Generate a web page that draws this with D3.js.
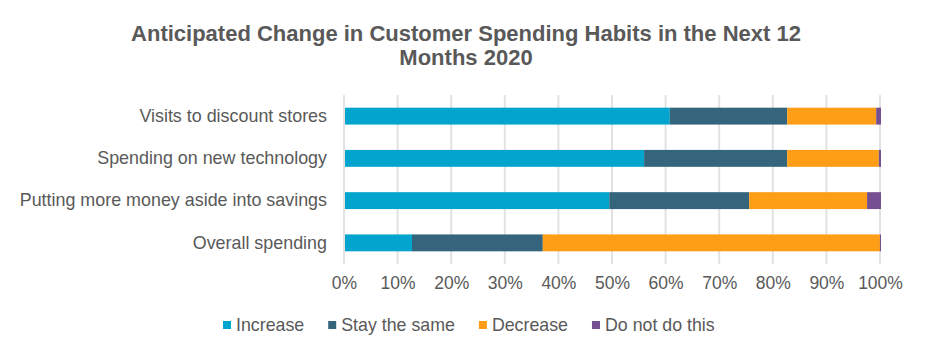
<!DOCTYPE html>
<html>
<head>
<meta charset="utf-8">
<script src="https://cdn.jsdelivr.net/npm/d3@7"></script>
<style>
  html, body { margin: 0; padding: 0; background: #fff; }
  svg { display: block; font-family: "Liberation Sans", Arial, sans-serif; }
</style>
</head>
<body>
<svg id="chart" width="925" height="356"></svg>
<script>
const categories = ["Visits to discount stores", "Spending on new technology", "Putting more money aside into savings", "Overall spending"];
const seriesNames = ["Increase", "Stay the same", "Decrease", "Do not do this"];
const increase = [60.6, 55.8, 49.3, 12.5];
const stayTheSame = [21.9, 26.7, 26.1, 24.4];
const decrease = [16.6, 17.1, 22.0, 62.9];
const doNotDoThis = [0.9, 0.4, 2.6, 0.2];
const xTicks = [0, 10, 20, 30, 40, 50, 60, 70, 80, 90, 100];
const titleLines = ["Anticipated Change in Customer Spending Habits in the Next 12", "Months 2020"];

const colors = ["#03A5CE", "#35657C", "#FE9E16", "#744F91"];
const textColor = "#595959";

const svg = d3.select("#chart");
const margin = { left: 344, right: 45, top: 95, bottom: 92 };
const W = 925, H = 356;

const rows = categories.map((c, i) => ({
  cat: c, "Increase": increase[i], "Stay the same": stayTheSame[i], "Decrease": decrease[i], "Do not do this": doNotDoThis[i]
}));
const stacked = d3.stack().keys(seriesNames)(rows);

const x = d3.scaleLinear().domain([0, 100]).range([margin.left, W - margin.right]);
const y = d3.scaleBand().domain(categories).range([margin.top, H - margin.bottom]).paddingInner(0.6).paddingOuter(0.3);

// title
svg.append("g").selectAll("text").data(titleLines).join("text")
  .attr("x", 466).attr("y", (d, i) => 41 + i * 24)
  .attr("text-anchor", "middle")
  .attr("font-size", "22px").attr("font-weight", "bold")
  .attr("fill", textColor).text(d => d);

// gridlines
svg.append("g").selectAll("line").data(xTicks).join("line")
  .attr("x1", d => x(d)).attr("x2", d => x(d))
  .attr("y1", margin.top).attr("y2", H - margin.bottom)
  .attr("stroke", "#E2E2E2").attr("stroke-width", 2);

// bars
svg.append("g").selectAll("g").data(stacked).join("g")
  .attr("fill", (d, i) => colors[i])
  .selectAll("rect").data(d => d).join("rect")
  .attr("x", d => x(d[0]) + 1)
  .attr("width", d => Math.max(0, x(d[1]) - x(d[0])))
  .attr("y", d => y(d.data.cat))
  .attr("height", y.bandwidth());

// x axis
const xAxis = d3.axisBottom(x).tickValues(xTicks).tickFormat(d => d + "%").tickSize(0).tickPadding(0);
const gx = svg.append("g").attr("transform", `translate(0,${H - margin.bottom})`).call(xAxis);
gx.select(".domain").remove();
gx.selectAll("text").attr("font-size", "17.5px").attr("fill", textColor)
  .attr("font-family", "Liberation Sans, Arial, sans-serif").attr("dy", "1.4em");

// y axis
const yAxis = d3.axisLeft(y).tickSize(0).tickPadding(17);
const gy = svg.append("g").attr("transform", `translate(${margin.left},0)`).call(yAxis);
gy.select(".domain").remove();
gy.selectAll("text").attr("font-size", "17.9px").attr("fill", textColor)
  .attr("font-family", "Liberation Sans, Arial, sans-serif");

// legend
const legend = svg.append("g").attr("transform", "translate(223,325)");
let lx = 0;
seriesNames.forEach((name, i) => {
  const g = legend.append("g").attr("transform", `translate(${lx},0)`);
  g.append("rect").attr("x", 0).attr("y", -4).attr("width", 8).attr("height", 8).attr("fill", colors[i]);
  const t = g.append("text").attr("x", 13).attr("y", 0).attr("dy", "0.35em")
    .attr("font-size", "17.8px").attr("fill", textColor).text(name);
  lx += 13 + t.node().getComputedTextLength() + 24;
});
</script>
</body>
</html>
